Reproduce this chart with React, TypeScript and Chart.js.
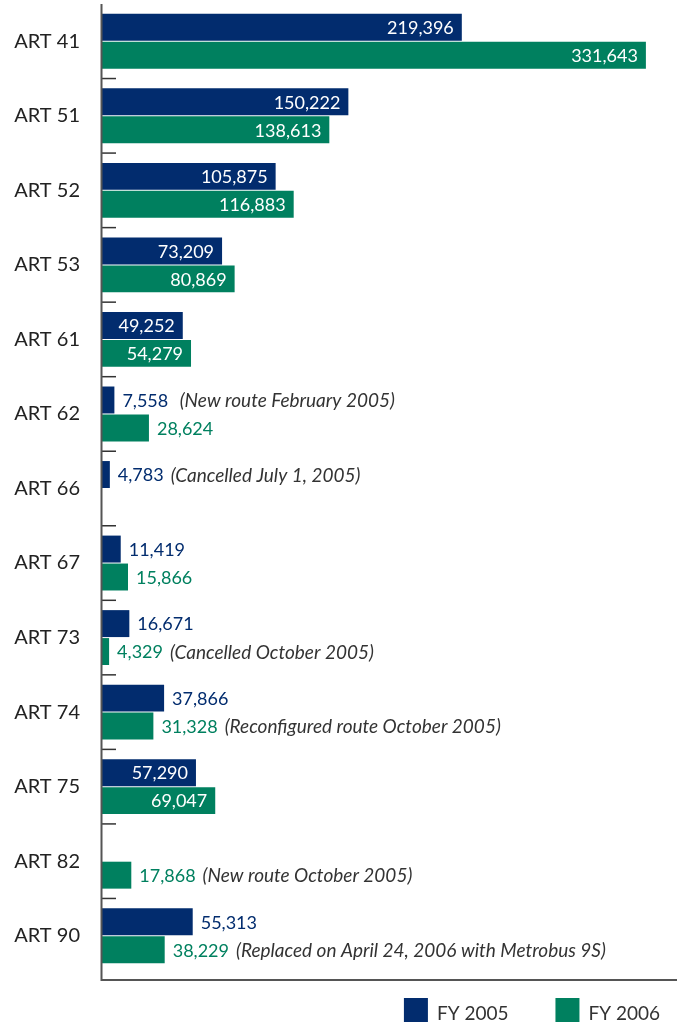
import React, { useEffect, useRef } from "react";
import { Chart, registerables } from "chart.js";

Chart.register(...registerables);

const categories = ["ART 41", "ART 51", "ART 52", "ART 53", "ART 61", "ART 62", "ART 66", "ART 67", "ART 73", "ART 74", "ART 75", "ART 82", "ART 90"];
const fy2005 = [219396, 150222, 105875, 73209, 49252, 7558, 4783, 11419, 16671, 37866, 57290, null, 55313];
const fy2006 = [331643, 138613, 116883, 80869, 54279, 28624, null, 15866, 4329, 31328, 69047, 17868, 38229];
const fy2005Inside = [true, true, true, true, true, false, false, false, false, false, true, false, false];
const fy2006Inside = [true, true, true, true, true, false, false, false, false, false, true, false, false];
const fy2005Notes = ["", "", "", "", "", " (New route February 2005)", "(Cancelled July 1, 2005)", "", "", "", "", "", ""];
const fy2006Notes = ["", "", "", "", "", "", "", "", "(Cancelled October 2005)", "(Reconfigured route October 2005)", "", "(New route October 2005)", "(Replaced on April 24, 2006 with Metrobus 9S)"];
const seriesLabels = ["FY 2005", "FY 2006"];
const seriesColors = ["#022c6e", "#00805f"];
const xMax = 350000;

const insideFlags = [fy2005Inside, fy2006Inside];
const notes = [fy2005Notes, fy2006Notes];

const decorPlugin = {
  id: "decor",
  afterDatasetsDraw(chart: any) {
    const ctx = chart.ctx;
    const { left, top, bottom } = chart.chartArea;
    const yScale = chart.scales.y;
    ctx.save();
    // small category separator ticks inside the plot
    ctx.strokeStyle = "#333";
    ctx.lineWidth = 1.5;
    for (let i = 0; i < categories.length - 1; i++) {
      const yy = (yScale.getPixelForValue(i) + yScale.getPixelForValue(i + 1)) / 2;
      ctx.beginPath();
      ctx.moveTo(left, yy);
      ctx.lineTo(left + 14, yy);
      ctx.stroke();
    }
    // axis lines
    ctx.strokeStyle = "#555";
    ctx.lineWidth = 2;
    ctx.beginPath();
    ctx.moveTo(left - 0.5, top);
    ctx.lineTo(left - 0.5, bottom + 7);
    ctx.lineTo(chart.width, bottom + 7);
    ctx.stroke();

    // value labels and notes
    chart.data.datasets.forEach((ds: any, di: number) => {
      const meta = chart.getDatasetMeta(di);
      meta.data.forEach((el: any, j: number) => {
        const v = ds.data[j];
        if (v === null || v === undefined) return;
        const { x, y } = el.getProps(["x", "y"], true);
        const txt = Number(v).toLocaleString("en-US");
        ctx.font = "18px Lato";
        ctx.textBaseline = "middle";
        if (insideFlags[di][j]) {
          ctx.fillStyle = "#ffffff";
          ctx.textAlign = "right";
          ctx.fillText(txt, x - 8, y + 1);
        } else {
          ctx.fillStyle = seriesColors[di];
          ctx.textAlign = "left";
          const tx = x + 8;
          ctx.fillText(txt, tx, y + 1);
          const note = notes[di][j];
          if (note) {
            const w = ctx.measureText(txt).width;
            ctx.font = "italic 19px Lato";
            ctx.fillStyle = "#333";
            ctx.fillText(note, tx + w + 7, y + 1);
          }
        }
      });
    });

    // legend
    ctx.font = "19px Lato";
    ctx.textBaseline = "alphabetic";
    ctx.textAlign = "left";
    const H = chart.height;
    const widths = seriesLabels.map((l) => ctx.measureText(l).width);
    const itemW = widths.map((w) => 24 + 9 + w);
    const total = itemW.reduce((a, b) => a + b, 0) + 47 * (itemW.length - 1);
    let cx = chart.width - 17 - total;
    seriesLabels.forEach((l, i) => {
      ctx.fillStyle = seriesColors[i];
      ctx.fillRect(cx, H - 25, 24, 24);
      ctx.fillStyle = "#333";
      ctx.fillText(l, cx + 33, H - 3);
      cx += itemW[i] + 47;
    });
    ctx.restore();
  },
};

export default function App() {
  const ref = useRef<HTMLCanvasElement>(null);
  useEffect(() => {
    document.body.style.margin = "0";
    const canvas = ref.current;
    if (!canvas) return;
    const chart = new Chart(canvas, {
      type: "bar",
      data: {
        labels: categories,
        datasets: [
          {
            label: seriesLabels[0],
            data: fy2005,
            backgroundColor: seriesColors[0],
            barPercentage: 0.964,
            categoryPercentage: 0.75,
          },
          {
            label: seriesLabels[1],
            data: fy2006,
            backgroundColor: seriesColors[1],
            barPercentage: 0.964,
            categoryPercentage: 0.75,
          },
        ],
      },
      options: {
        indexAxis: "y",
        responsive: false,
        animation: false,
        devicePixelRatio: 1,
        layout: { padding: { top: 4, bottom: 50, right: 1, left: 0 } },
        plugins: { legend: { display: false }, tooltip: { enabled: false } },
        scales: {
          x: { display: false, min: 0, max: xMax },
          y: {
            grid: { display: false, drawTicks: false },
            border: { display: false },
            ticks: { font: { family: "Lato", size: 20 }, color: "#222", padding: 22 },
            afterFit: (s: any) => {
              s.width = 102;
              s.paddingTop = 0;
              s.paddingBottom = 0;
            },
          },
        },
      },
      plugins: [decorPlugin],
    } as any);
    return () => chart.destroy();
  }, []);
  return (
    <div style={{ width: 677, height: 1023 }}>
      <canvas ref={ref} width={677} height={1023} style={{ display: "block" }} />
    </div>
  );
}
